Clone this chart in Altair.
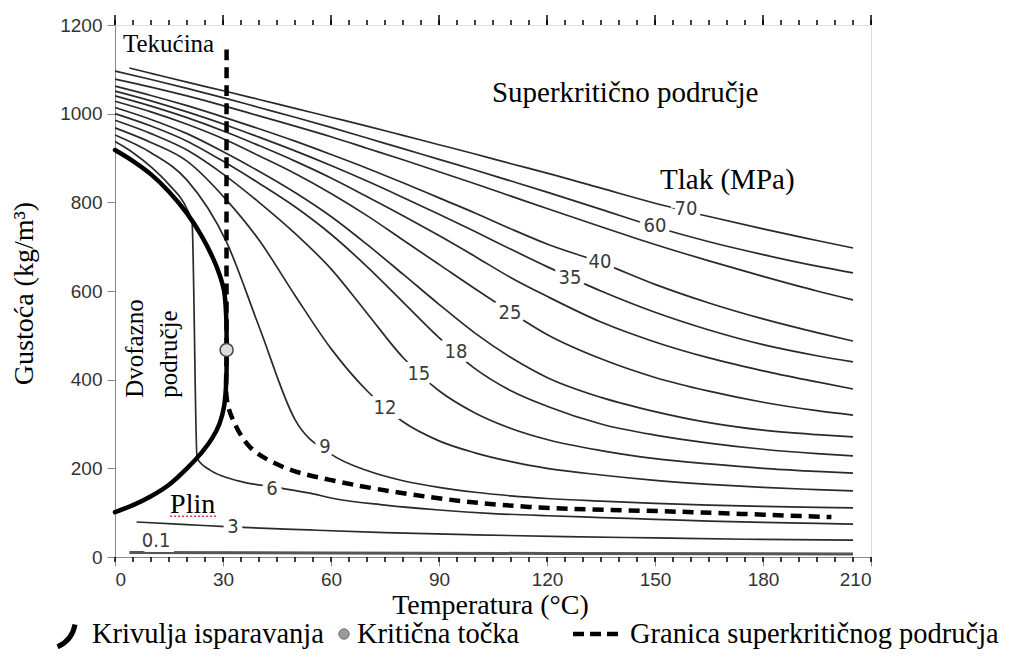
import altair as alt
import pandas as pd

# ---------------- data ----------------
TEMPS = [0, 10, 20, 31, 40, 50, 60, 70, 80, 90, 100, 110, 120, 135, 150, 165, 180, 195, 205]
TEMPS_70 = [4, 10, 20, 31, 40, 50, 60, 70, 80, 90, 100, 110, 120, 135, 150, 165, 180, 195, 205]

P70 = [1103, 1091, 1071, 1050, 1032, 1012, 992, 972, 951, 930, 909, 887, 866, 832, 798, 768, 740, 714, 697]
P60 = [1096, 1077, 1057, 1034, 1014, 992, 969, 945, 921, 897, 873, 848, 823, 784, 745, 711, 682, 656, 641]
P50 = [1078, 1060, 1040, 1016, 995, 972, 948, 922, 896, 869, 842, 814, 786, 745, 705, 668, 633, 600, 580]
P40 = [1062, 1041, 1018, 990, 966, 938, 908, 877, 844, 810, 776, 740, 706, 664, 615, 573, 537, 506, 487]
P35 = [1051, 1029, 1004, 974, 947, 916, 883, 848, 811, 773, 734, 694, 655, 600, 552, 512, 479, 454, 440]
P30 = [1040, 1017, 991, 958, 928, 893, 855, 813, 770, 725, 678, 630, 588, 530, 485, 449, 420, 395, 379]
P25 = [1028, 1004, 976, 940, 905, 865, 820, 770, 715, 660, 605, 552, 502, 447, 405, 374, 349, 330, 320]
P20 = [1014, 987, 955, 910, 870, 822, 768, 705, 638, 570, 505, 450, 405, 360, 328, 303, 286, 276, 271]
P18 = [1000, 972, 938, 888, 843, 790, 728, 655, 575, 495, 425, 375, 340, 300, 275, 257, 243, 233, 228]
P15 = [985, 955, 918, 858, 800, 730, 650, 550, 450, 375, 325, 290, 265, 240, 222, 210, 200, 193, 189]
P12 = [968, 935, 893, 805, 715, 590, 470, 375, 305, 262, 235, 215, 200, 185, 173, 164, 157, 152, 149]
P9 = [952, 912, 850, 710, 520, 310, 232, 195, 172, 157, 146, 138, 132, 126, 121, 117, 114, 112, 111]

P6_T = [0, 5, 10, 15, 20, 21.4, 22.8, 26.4, 30, 35.6, 43.9, 54.2, 60, 75, 90, 105, 120, 135, 150, 165, 180, 195, 205]
P6_D = [937, 912, 880, 840, 785, 755, 223, 196, 182, 169, 158, 144, 133, 117, 106, 98, 93, 89, 85, 81, 78, 76, 74]
P3_T = [6, 20, 32, 54, 75, 100, 125, 150, 175, 205]
P3_D = [79, 73, 68, 61, 55, 50, 46, 43, 40, 38]
P01_T = [4, 60, 120, 205]
P01_D = [10, 9, 8, 7]

EVAP_T = [0, 5, 10, 15, 20, 24, 27, 29, 30.3, 30.9, 31.0, 30.9, 30.3, 29, 27, 24, 20, 15, 10, 5, 0]
EVAP_D = [918, 893, 863, 824, 775, 725, 678, 638, 600, 540, 467, 395, 340, 300, 268, 235, 200, 163, 137, 117, 101]

BOUND_T = [31, 31, 31.1, 32.8, 37.5, 46.7, 59.7, 87.5, 115, 157, 199]
BOUND_D = [1145, 467, 354, 309, 248, 203, 174, 135, 113, 102, 90]

CRIT_T = [31.0]
CRIT_D = [467]

LABEL_TEXT = ["70", "60", "40", "35", "25", "18", "15", "12", "9", "6", "3", "0.1"]
LABEL_T = [158.6, 150, 134.7, 126.4, 109.7, 94.7, 84.4, 75, 58.3, 43.6, 32.8, 11.4]
LABEL_D = [785, 747, 665, 629, 550, 462, 413, 336, 248, 153, 68, 36]

X_TICKS = [0, 30, 60, 90, 120, 150, 180, 210]
X_MINOR = list(range(0, 211, 5))
Y_TICKS = [0, 200, 400, 600, 800, 1000, 1200]

SERIF = "Liberation Serif"
SANS = "Liberation Sans"
NARROW = "Liberation Sans Narrow, Arial Narrow, DejaVu Sans Condensed, Liberation Sans"

# ---------------- tables ----------------
rows = []
def add(name, ts, ds):
    for i, (t, d) in enumerate(zip(ts, ds)):
        rows.append({"s": name, "i": i, "T": t, "d": d})

add("70", TEMPS_70, P70)
for name, arr in [("60", P60), ("50", P50), ("40", P40), ("35", P35), ("30", P30),
                  ("25", P25), ("20", P20), ("18", P18), ("15", P15), ("12", P12), ("9", P9)]:
    add(name, TEMPS, arr)
add("6", P6_T, P6_D)
add("3", P3_T, P3_D)
iso_df = pd.DataFrame(rows)

p01_df = pd.DataFrame({"T": P01_T, "d": P01_D, "i": range(len(P01_T))})
evap_df = pd.DataFrame({"T": EVAP_T, "d": EVAP_D, "i": range(len(EVAP_T))})
bound_df = pd.DataFrame({"T": BOUND_T, "d": BOUND_D, "i": range(len(BOUND_T))})
crit_df = pd.DataFrame({"T": CRIT_T, "d": CRIT_D})
lab_df = pd.DataFrame({"T": LABEL_T, "d": LABEL_D, "txt": LABEL_TEXT})
minor_df = pd.DataFrame({"T": X_MINOR})
major_df = pd.DataFrame({"T": X_TICKS})

xs = alt.Scale(domain=[0, 210], nice=False)
ys = alt.Scale(domain=[0, 1200], nice=False)

X = alt.X("T:Q", scale=xs, axis=alt.Axis(
    values=X_TICKS, format="d", tickSize=9, labelFont=SANS, labelFontSize=19, labelColor="#333",
    labelPadding=4, title="Temperatura (°C)", titleFont=SERIF, titleFontSize=28,
    titleFontWeight="normal", titleColor="black", titleX=375, titleY=48,
    titleBaseline="middle", titleAlign="center", grid=False))
Y = alt.Y("d:Q", scale=ys, axis=alt.Axis(
    values=Y_TICKS, format="d", tickSize=8, labelFont=SANS, labelFontSize=19, labelColor="#333",
    labelPadding=5, title="Gustoća (kg/m³)", titleFont=SERIF, titleFontSize=28,
    titleFontWeight="normal", titleColor="black", titleX=-91, titleY=268,
    titleAngle=270, titleBaseline="middle", titleAlign="center", grid=False))
Xp = alt.X("T:Q", scale=xs)
Yp = alt.Y("d:Q", scale=ys)

isobars = alt.Chart(iso_df).mark_line(color="#2a2a2a", strokeWidth=1.7, interpolate="monotone").encode(
    x=X, y=Y, detail="s:N", order="i:Q")
p01 = alt.Chart(p01_df).mark_line(color="#555", strokeWidth=3).encode(x=Xp, y=Yp, order="i:Q")
evap = alt.Chart(evap_df).mark_line(color="black", strokeWidth=4.5, strokeCap="round",
                                    interpolate="catmull-rom").encode(x=Xp, y=Yp, order="i:Q")
bound = alt.Chart(bound_df).mark_line(color="black", strokeWidth=4.5, strokeDash=[11, 7],
                                      interpolate="catmull-rom").encode(x=Xp, y=Yp, order="i:Q")
crit = alt.Chart(crit_df).mark_point(shape="circle", filled=True, size=170, fill="#dcdcdc",
                                     stroke="#444", strokeWidth=1.5, opacity=1).encode(x=Xp, y=Yp)

halo = alt.Chart(lab_df).mark_text(font=NARROW, fontSize=20, color="white", stroke="white",
                                   strokeWidth=10, baseline="middle", align="center").encode(
    x=Xp, y=Yp, text="txt:N")
labels = alt.Chart(lab_df).mark_text(font=NARROW, fontSize=20, color="#3a3a3a",
                                     baseline="middle", align="center").encode(
    x=Xp, y=Yp, text="txt:N")

def note(txt, t, d, size, angle=0, align="left"):
    df = pd.DataFrame({"T": [t], "d": [d], "txt": [txt]})
    return alt.Chart(df).mark_text(font=SERIF, fontSize=size, color="black", align=align,
                                   baseline="alphabetic", angle=angle).encode(
        x=Xp, y=Yp, text="txt:N")

notes = [
    note("Tekućina", 2.2, 1140, 25),
    note("Superkritično područje", 104.7, 1027, 29),
    note("Tlak (MPa)", 151.4, 830, 29),
    note("Dvofazno", 7.8, 359, 25, angle=270),
    note("područje", 17.2, 359, 25, angle=270),
    note("Plin", 15.3, 99, 28),
]
squig_df = pd.DataFrame({"T": [15.3], "T2": [28.3], "d": [92]})
squig = alt.Chart(squig_df).mark_rule(color="#e03a3a", strokeDash=[2, 2], strokeWidth=1.5).encode(
    x=Xp, x2="T2:Q", y=Yp)

# ticks: bottom minor, top minor & major
bot_minor = alt.Chart(minor_df).mark_rule(color="black", strokeWidth=1.5).encode(
    x=Xp, y=alt.value(532), y2=alt.value(537))
top_minor = alt.Chart(minor_df).mark_rule(color="black", strokeWidth=1.5).encode(
    x=Xp, y=alt.value(0), y2=alt.value(-5))
top_major = alt.Chart(major_df).mark_rule(color="black", strokeWidth=1.5).encode(
    x=Xp, y=alt.value(0), y2=alt.value(-10))

# legend row (drawn below the plot); x positions relative to the plot's left edge
LEG_Y = 609
LEG_FS = 28.5
one = pd.DataFrame({"k": [0]})
leg_icon = alt.Chart(one).mark_arc(color="black", radius=28, radius2=33, theta=1.75,
                                   theta2=2.72).encode(x=alt.value(-70), y=alt.value(LEG_Y - 15))
def leg_text(txt, x):
    return alt.Chart(pd.DataFrame({"txt": [txt]})).mark_text(
        font=SERIF, fontSize=LEG_FS, color="black", align="left", baseline="middle").encode(
        x=alt.value(x), y=alt.value(LEG_Y), text="txt:N")
leg_dot = alt.Chart(one).mark_point(shape="circle", filled=True, size=110, fill="#9a9a9a",
                                    stroke="#777", strokeWidth=1, opacity=1).encode(
    x=alt.value(229), y=alt.value(LEG_Y))
leg_dash = alt.Chart(one).mark_rule(color="black", strokeWidth=4.5, strokeDash=[11, 6]).encode(
    x=alt.value(458), x2=alt.value(507), y=alt.value(LEG_Y))

chart = alt.layer(
    isobars, p01, evap, bound, crit, halo, labels, *notes, squig,
    bot_minor, top_minor, top_major,
    leg_icon, leg_text("Krivulja isparavanja", -23), leg_dot,
    leg_text("Kritična točka", 242), leg_dash, leg_text("Granica superkritičnog područja", 515),
).properties(
    width=756, height=532,
    autosize=alt.AutoSizeParams(type="none"),
    padding={"left": 107, "top": 17, "right": 131, "bottom": 92},
).configure_view(stroke="black", strokeWidth=1.5).configure_axis(
    domainColor="black", domainWidth=1.5, tickColor="black", tickWidth=1.5
).configure(background="white")

chart.save("out.html", embed_options={"renderer": "svg", "actions": False})
